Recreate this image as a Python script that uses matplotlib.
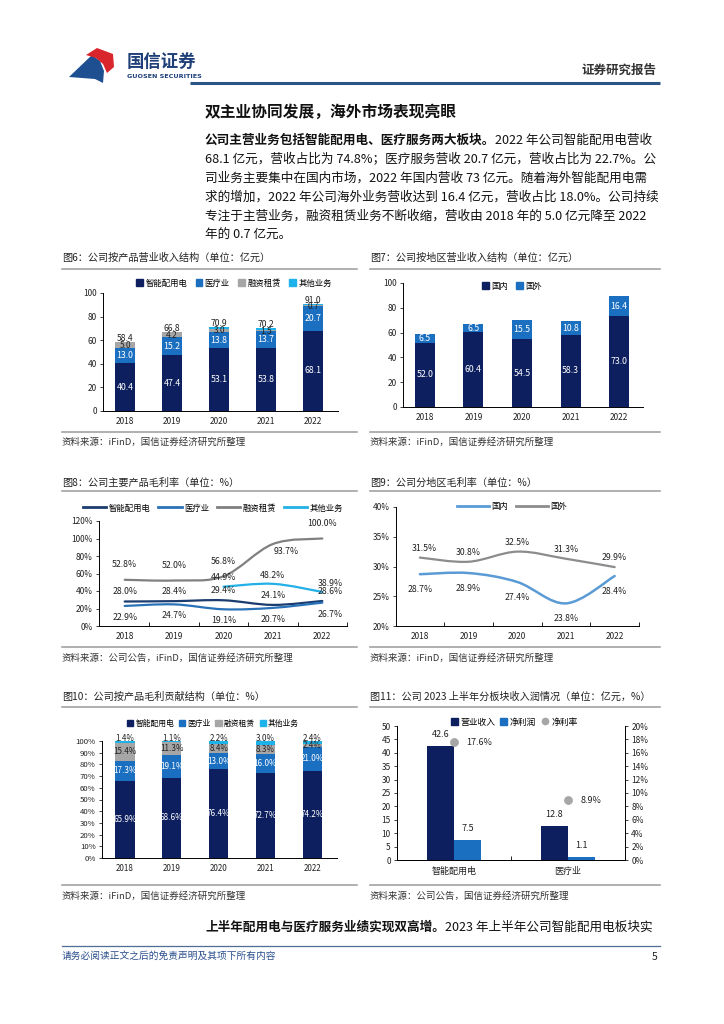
import numpy as np
import matplotlib
matplotlib.use('Agg')
import matplotlib.pyplot as plt
from matplotlib.path import Path
from matplotlib.patches import PathPatch, Polygon, Patch
from matplotlib.lines import Line2D

plt.rcParams['font.family'] = ['Noto Sans CJK SC', 'DejaVu Sans']
plt.rcParams['axes.linewidth'] = 0.7

# ---------------- data ----------------
years = ['2018', '2019', '2020', '2021', '2022']

# Fig 6 revenue by product (亿元)
f6_smart = [40.4, 47.4, 53.1, 53.8, 68.1]
f6_med = [13.0, 15.2, 13.8, 13.7, 20.7]
f6_lease = [5.0, 4.2, 3.0, 1.5, 0.7]
f6_other = [0.0, 0.0, 1.0, 1.2, 1.5]
f6_total = [58.4, 66.8, 70.9, 70.2, 91.0]

# Fig 7 revenue by region (亿元)
f7_dom = [52.0, 60.4, 54.5, 58.3, 73.0]
f7_over = [6.5, 6.5, 15.5, 10.8, 16.4]

# Fig 8 gross margin by product (%)
f8_smart = [28.0, 28.4, 29.4, 24.1, 28.6]
f8_med = [22.9, 24.7, 19.1, 20.7, 26.7]
f8_lease = [52.8, 52.0, 56.8, 93.7, 100.0]
f8_other = [None, None, 44.9, 48.2, 38.9]

# Fig 9 gross margin by region (%)
f9_dom = [28.7, 28.9, 27.4, 23.8, 28.4]
f9_over = [31.5, 30.8, 32.5, 31.3, 29.9]

# Fig 10 gross profit contribution (%)
f10_smart = [65.9, 68.6, 76.4, 72.7, 74.2]
f10_med = [17.3, 19.1, 13.0, 16.0, 21.0]
f10_lease = [15.4, 11.3, 8.4, 8.3, 2.4]
f10_other = [1.4, 1.1, 2.2, 3.0, 2.4]

# Fig 11 2023H1 by segment
f11_cats = ['智能配用电', '医疗业']
f11_rev = [42.6, 12.8]
f11_profit = [7.5, 1.1]
f11_margin = [17.6, 8.9]

prod_names = ['智能配用电', '医疗业', '融资租赁', '其他业务']

# ---------------- style ----------------
NAVY = '#0D1F5E'
BLUE = '#1B6FC0'
GRAY = '#A6A6A6'
LBLUE = '#1DB2EA'
L_SMART = '#1B3C6E'
L_MED = '#2A72B8'
L_LEASE = '#808080'
L_OTHER = '#22B0E6'
L_DOM = '#5B9BD5'
L_OVER = '#8C8C8C'
TXT = '#222222'

W, H = 724, 1024
fig = plt.figure(figsize=(W / 100, H / 100), dpi=100)
page = fig.add_axes([0, 0, 1, 1])
page.set_xlim(0, W)
page.set_ylim(H, 0)
page.axis('off')


def px_axes(l, t, r, b):
    ax = fig.add_axes([l / W, 1 - b / H, (r - l) / W, (b - t) / H])
    ax.set_facecolor('none')
    return ax


def style_axes(ax, right=False):
    for s in ['top', 'right']:
        ax.spines[s].set_visible(False)
    if right:
        ax.spines['right'].set_visible(True)
    ax.tick_params(axis='y', labelsize=6, length=2.5, width=0.6, pad=2, colors=TXT)
    ax.tick_params(axis='x', labelsize=6, length=0, pad=4, colors=TXT)


def fig_legend(ax, handles, labels, cx, cy, **kw):
    opts = dict(loc='center', bbox_to_anchor=(cx / W, 1 - cy / H),
                bbox_transform=fig.transFigure, ncol=len(labels), frameon=False,
                fontsize=6, handlelength=0.8, handleheight=0.8, handletextpad=0.3,
                columnspacing=1.0, borderpad=0)
    opts.update(kw)
    ax.legend(handles, labels, **opts)


def smooth_line(ax, xs, ys, color, lw=1.6):
    pts = np.column_stack([xs, ys]).astype(float)
    n = len(pts)
    verts = [pts[0]]
    codes = [Path.MOVETO]
    for i in range(n - 1):
        p0 = pts[i - 1] if i > 0 else pts[i]
        p1 = pts[i]
        p2 = pts[i + 1]
        p3 = pts[i + 2] if i + 2 < n else pts[i + 1]
        verts += [p1 + (p2 - p0) / 6.0, p2 - (p3 - p1) / 6.0, p2]
        codes += [Path.CURVE4] * 3
    ax.add_patch(PathPatch(Path(verts, codes), fc='none', ec=color, lw=lw,
                           capstyle='round', joinstyle='round'))


x = np.arange(len(years))

# ---------------- page header ----------------
page.add_patch(Polygon([(69, 77), (92, 55), (100, 61), (104, 71), (103, 83), (95, 79)],
                       closed=True, fc='#1D4F91', ec='none'))
page.add_patch(Polygon([(86, 55), (97, 48), (113, 54), (114, 67), (107, 73), (103, 64), (96, 58)],
                       closed=True, fc='#D9262C', ec='none'))
page.text(127, 62, '国信证券', fontsize=12.5, fontweight='bold', color='#1E3F78', va='center')
page.text(127, 77, 'GUOSEN SECURITIES', fontsize=4.6, fontweight='bold', color='#1E3F78',
          va='center', family=['DejaVu Sans'])
page.text(656, 70, '证券研究报告', fontsize=9, fontweight='bold', color='#333333',
          va='center', ha='right')
page.plot([190, 660], [83, 83], color='#2A5585', lw=2.2, solid_capstyle='butt')

page.text(205, 112, '双主业协同发展，海外市场表现亮眼', fontsize=11.3, fontweight='bold',
          color='#111111', va='center')

renderer = fig.canvas.get_renderer()


def mixed_line(y, parts, x0=205, size=9.1):
    xc = x0
    for txt, bold in parts:
        t = page.text(xc, y, txt, fontsize=size, fontweight='bold' if bold else 'normal',
                      color='#111111', va='center')
        bb = t.get_window_extent(renderer=renderer)
        xc += bb.width


para = [
    [('公司主营业务包括智能配用电、医疗服务两大板块。', True), ('2022 年公司智能配用电营收', False)],
    [('68.1 亿元，营收占比为 74.8%；医疗服务营收 20.7 亿元，营收占比为 22.7%。公', False)],
    [('司业务主要集中在国内市场，2022 年国内营收 73 亿元。随着海外智能配用电需', False)],
    [('求的增加，2022 年公司海外业务营收达到 16.4 亿元，营收占比 18.0%。公司持续', False)],
    [('专注于主营业务，融资租赁业务不断收缩，营收由 2018 年的 5.0 亿元降至 2022', False)],
    [('年的 0.7 亿元。', False)],
]
for i, parts in enumerate(para):
    mixed_line(140 + i * 19, parts)


def fig_title(x0, x1, y, txt, yline):
    page.text(x0, y, txt, fontsize=7.3, color='#222222', va='center')
    page.plot([x0, x1], [yline, yline], color='#9A9A9A', lw=1.1)


def src(x0, x1, yline, y, txt):
    page.plot([x0, x1], [yline, yline], color='#9A9A9A', lw=1.1)
    page.text(x0, y, txt, fontsize=6.8, color='#333333', va='center')


fig_title(62, 357, 258, '图6：公司按产品营业收入结构（单位：亿元）', 269)
fig_title(370, 660, 258, '图7：公司按地区营业收入结构（单位：亿元）', 269)
src(62, 357, 432, 442, '资料来源：iFinD，国信证券经济研究所整理')
src(370, 660, 432, 442, '资料来源：iFinD，国信证券经济研究所整理')

fig_title(62, 357, 483, '图8：公司主要产品毛利率（单位：%）', 491)
fig_title(370, 660, 483, '图9：公司分地区毛利率（单位：%）', 491)
src(62, 357, 647, 658, '资料来源：公司公告，iFinD，国信证券经济研究所整理')
src(370, 660, 647, 658, '资料来源：iFinD，国信证券经济研究所整理')

fig_title(62, 357, 697, '图10：公司按产品毛利贡献结构（单位：%）', 707)
fig_title(370, 660, 697, '图11：公司 2023 上半年分板块收入润情况（单位：亿元，%）', 707)
src(62, 357, 885, 896, '资料来源：iFinD，国信证券经济研究所整理')
src(370, 660, 885, 896, '资料来源：公司公告，国信证券经济研究所整理')

mixed_line(927, [('上半年配用电与医疗服务业绩实现双高增。', True),
                 ('2023 年上半年公司智能配用电板块实', False)])
page.plot([62, 660], [946, 946], color='#4F6E96', lw=0.9)
page.text(62, 956, '请务必阅读正文之后的免责声明及其项下所有内容', fontsize=7, color='#2B4E8C',
          va='center')
page.text(657, 957, '5', fontsize=7.5, color='#222222', va='center', ha='right')

# ---------------- Fig 6 ----------------
ax = px_axes(103, 293, 338, 411)
style_axes(ax)
bw = 0.41
b1 = np.array(f6_smart)
b2 = b1 + np.array(f6_med)
b3 = b2 + np.array(f6_lease)
ax.bar(x, f6_smart, bw, color=NAVY, zorder=2)
ax.bar(x, f6_med, bw, bottom=b1, color=BLUE, zorder=2)
ax.bar(x, f6_lease, bw, bottom=b2, color=GRAY, zorder=2)
ax.bar(x, f6_other, bw, bottom=b3, color=LBLUE, zorder=2)
for i in range(len(years)):
    ax.text(x[i], f6_smart[i] / 2, f'{f6_smart[i]:.1f}', color='white', ha='center', va='center', fontsize=6.3)
    ax.text(x[i], b1[i] + f6_med[i] / 2, f'{f6_med[i]:.1f}', color='white', ha='center', va='center', fontsize=6.3)
    ax.text(x[i], b2[i] + f6_lease[i] / 2 - 0.6, f'{f6_lease[i]:.1f}', color=TXT, ha='center', va='center', fontsize=6.0)
    ax.text(x[i], f6_total[i] + 3.0, f'{f6_total[i]:.1f}', color=TXT, ha='center', va='center', fontsize=6.2)
ax.set_xlim(-0.47, 4.53)
ax.set_ylim(0, 100)
ax.set_yticks(range(0, 101, 20))
ax.set_xticks(x)
ax.set_xticklabels(years)
fig_legend(ax, [Patch(color=c) for c in [NAVY, BLUE, GRAY, LBLUE]], prod_names, 234, 283)

# ---------------- Fig 7 ----------------
ax = px_axes(403, 283, 643, 407)
style_axes(ax)
ax.bar(x, f7_dom, bw, color=NAVY, zorder=2)
ax.bar(x, f7_over, bw, bottom=f7_dom, color=BLUE, zorder=2)
for i in range(len(years)):
    ax.text(x[i], f7_dom[i] / 2, f'{f7_dom[i]:.1f}', color='white', ha='center', va='center', fontsize=6.3)
    ax.text(x[i], f7_dom[i] + f7_over[i] / 2, f'{f7_over[i]:.1f}', color='white', ha='center', va='center', fontsize=6.3)
ax.set_xlim(-0.45, 4.49)
ax.set_ylim(0, 100)
ax.set_yticks(range(0, 101, 20))
ax.set_xticks(x)
ax.set_xticklabels(years)
fig_legend(ax, [Patch(color=NAVY), Patch(color=BLUE)], ['国内', '国外'], 512, 286)

# ---------------- Fig 8 ----------------
ax = px_axes(99, 521, 347, 626)
style_axes(ax)
series8 = [(f8_smart, L_SMART, 11), (f8_med, L_MED, -13),
           (f8_lease, L_LEASE, 17), (f8_other, L_OTHER, 10)]
for vals, col, dy in series8:
    xs = [xi for xi, v in zip(x, vals) if v is not None]
    ys = [v for v in vals if v is not None]
    smooth_line(ax, xs, ys, col)
    for xi, v in zip(xs, ys):
        dx = 0.16 if xi == 4 and vals is not f8_lease else 0.0
        d = dy
        if vals is f8_lease and xi == 3:
            dx, d = 0.26, -8
        ax.text(xi + dx, v + d, f'{v:.1f}%', ha='center', va='center', fontsize=6.3, color=TXT)
ax.set_xlim(-0.52, 4.46)
ax.set_ylim(0, 120)
ax.set_yticks(range(0, 121, 20))
ax.set_yticklabels([f'{v}%' for v in range(0, 121, 20)])
ax.set_xticks(x)
ax.set_xticklabels(years)
ax.set_xticks(np.arange(0.5, 4.6, 1), minor=True)
ax.tick_params(axis='x', which='minor', direction='in', length=3, width=0.6)
fig_legend(ax, [Line2D([], [], color=c, lw=2) for c in [L_SMART, L_MED, L_LEASE, L_OTHER]],
           prod_names, 213, 508, handlelength=2.8, columnspacing=0.9)

# ---------------- Fig 9 ----------------
ax = px_axes(396, 507, 639, 626)
style_axes(ax)
smooth_line(ax, x, f9_dom, L_DOM, lw=1.8)
smooth_line(ax, x, f9_over, L_OVER, lw=1.6)
for i in range(len(years)):
    ax.text(x[i] + (0.1 if i == 0 else 0.0), f9_over[i] + 1.6, f'{f9_over[i]:.1f}%', ha='center',
            va='center', fontsize=6.3, color=TXT)
    ax.text(x[i], f9_dom[i] - 2.6, f'{f9_dom[i]:.1f}%', ha='center', va='center', fontsize=6.3, color=TXT)
ax.set_xlim(-0.49, 4.45)
ax.set_ylim(20, 40)
ax.set_yticks(range(20, 41, 5))
ax.set_yticklabels([f'{v}%' for v in range(20, 41, 5)])
ax.set_xticks(x)
ax.set_xticklabels(years)
ax.set_xticks(np.arange(0.5, 4.6, 1), minor=True)
ax.tick_params(axis='x', which='minor', direction='in', length=3, width=0.6)
fig_legend(ax, [Line2D([], [], color=c, lw=2) for c in [L_DOM, L_OVER]], ['国内', '国外'],
           512, 507, handlelength=3.8)

# ---------------- Fig 10 ----------------
ax = px_axes(102, 741, 337, 858)
style_axes(ax)
c1 = np.array(f10_smart)
c2 = c1 + np.array(f10_med)
c3 = c2 + np.array(f10_lease)
ax.bar(x, f10_smart, bw, color=NAVY, zorder=2)
ax.bar(x, f10_med, bw, bottom=c1, color=BLUE, zorder=2)
ax.bar(x, f10_lease, bw, bottom=c2, color=GRAY, zorder=2)
ax.bar(x, f10_other, bw, bottom=c3, color=LBLUE, zorder=2)
for i in range(len(years)):
    ax.text(x[i], f10_smart[i] / 2, f'{f10_smart[i]:.1f}%', color='white', ha='center', va='center', fontsize=5.8)
    ax.text(x[i], c1[i] + f10_med[i] / 2, f'{f10_med[i]:.1f}%', color='white', ha='center', va='center', fontsize=5.8)
    ax.text(x[i], c2[i] + f10_lease[i] / 2, f'{f10_lease[i]:.1f}%', color=TXT, ha='center', va='center', fontsize=5.8)
    ax.text(x[i], 102, f'{f10_other[i]:.1f}%', color=TXT, ha='center', va='center', fontsize=5.8)
ax.set_xlim(-0.49, 4.53)
ax.set_ylim(0, 100)
ax.set_yticks(range(0, 101, 10))
ax.set_yticklabels([f'{v}%' for v in range(0, 101, 10)])
ax.tick_params(axis='y', labelsize=5.6)
ax.set_xticks(x)
ax.set_xticklabels(years)
ax.tick_params(axis='x', labelsize=5.8)
fig_legend(ax, [Patch(color=c) for c in [NAVY, BLUE, GRAY, LBLUE]], prod_names, 213, 724,
           fontsize=5.6, columnspacing=0.6)

# ---------------- Fig 11 ----------------
ax = px_axes(397, 726, 625, 860)
style_axes(ax)
xc = np.arange(len(f11_cats))
w11 = 0.24
ax.bar(xc - w11 / 2, f11_rev, w11, color=NAVY, zorder=2)
ax.bar(xc + w11 / 2, f11_profit, w11, color=BLUE, zorder=2)
for i in range(len(f11_cats)):
    ax.text(xc[i] - w11 / 2, f11_rev[i] + 2.5, f'{f11_rev[i]:.1f}', ha='center', va='bottom', fontsize=6.5, color=TXT)
    ax.text(xc[i] + w11 / 2, f11_profit[i] + 2.5, f'{f11_profit[i]:.1f}', ha='center', va='bottom', fontsize=6.5, color=TXT)
ax.set_xlim(-0.5, 1.5)
ax.set_ylim(0, 50)
ax.set_yticks(range(0, 51, 5))
ax.set_xticks(xc)
ax.set_xticklabels(f11_cats)
ax.tick_params(axis='x', labelsize=6.5, pad=5)
ax.set_xticks([0.5], minor=True)
ax.tick_params(axis='x', which='minor', direction='in', length=3, width=0.6)
ax2 = ax.twinx()
ax2.set_facecolor('none')
ax2.spines['top'].set_visible(False)
ax2.set_ylim(0, 20)
ax2.set_yticks(range(0, 21, 2))
ax2.set_yticklabels([f'{v}%' for v in range(0, 21, 2)])
ax2.tick_params(axis='y', labelsize=6, length=2.5, width=0.6, pad=2, colors=TXT)
ax2.scatter(xc, f11_margin, s=28, color=GRAY, zorder=3)
for i in range(len(f11_cats)):
    ax2.text(xc[i] + 0.11, f11_margin[i], f'{f11_margin[i]:.1f}%', ha='left', va='center', fontsize=6.5, color=TXT)
fig_legend(ax2, [Patch(color=NAVY), Patch(color=BLUE),
                 Line2D([], [], marker='o', ls='none', color=GRAY, markersize=4.5)],
           ['营业收入', '净利润', '净利率'], 514, 722, fontsize=6.3, columnspacing=0.6)

fig.savefig('out.png', dpi=100)
